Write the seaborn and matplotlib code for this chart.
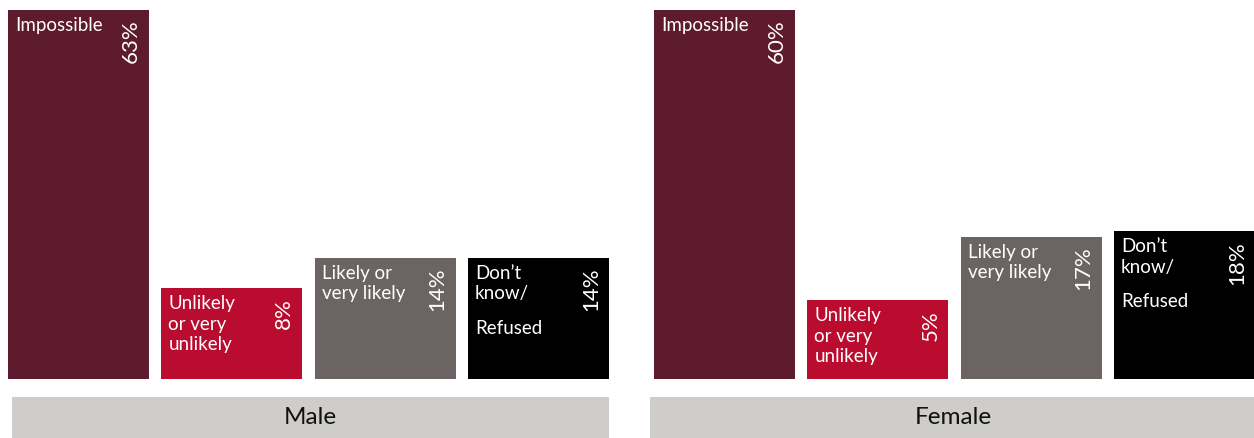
import matplotlib
matplotlib.use("Agg")
import matplotlib.pyplot as plt
from matplotlib.patches import Rectangle
import pandas as pd
import seaborn as sns

# Survey answers, split by respondent group
categories = ["Impossible", "Unlikely or very unlikely", "Likely or very likely", "Don’t know/ Refused"]
bar_captions = ["Impossible", "Unlikely\nor very\nunlikely", "Likely or\nvery likely", "Don’t\nknow/\n\nRefused"]
groups = ["Male", "Female"]
male_pct = [63, 8, 14, 14]
female_pct = [60, 5, 17, 18]
colors = ["#5f1b2e", "#ba0c2f", "#6b6462", "#000000"]

sns.set_theme(style="white")
plt.rcParams["font.family"] = ["Lato", "DejaVu Sans"]

W, H = 1254, 438
fig = plt.figure(figsize=(W / 100, H / 100), dpi=100)

FLOOR = 10      # bars start a little below zero so short bars can hold their caption
BAR_W = 0.92
PANEL_W = 601   # px
BASE_Y = 59     # px from the bottom of the figure
PANEL_H = 371   # px

panels = [
    dict(left=8, values=male_pct, name=groups[0], band=(12, 609)),
    dict(left=654, values=female_pct, name=groups[1], band=(650, 1256)),
]

palette = dict(zip(categories, colors))

for panel in panels:
    ax = fig.add_axes([panel["left"] / W, BASE_Y / H, PANEL_W / W, PANEL_H / H])
    df = pd.DataFrame({"category": categories, "pct": panel["values"]})
    sns.barplot(data=df, x="category", y="pct", hue="category",
                order=categories, hue_order=categories, palette=palette,
                saturation=1, width=BAR_W, legend=False, ax=ax)
    for p in ax.patches:
        top = p.get_y() + p.get_height()
        p.set_y(-FLOOR)
        p.set_height(top + FLOOR)
        p.set_linewidth(0)
    ax.set_xlim(-BAR_W / 2, len(categories) - 1 + BAR_W / 2)
    ax.set_ylim(-FLOOR, max(panel["values"]) + 0.3)
    ax.set_axis_off()

    for i, (caption, v) in enumerate(zip(bar_captions, panel["values"])):
        x_left = i - BAR_W / 2
        x_right = i + BAR_W / 2
        parts = caption.split("\n\n")
        dy = -7
        for part in parts:
            ax.annotate(part, xy=(x_left, v), xytext=(7, dy), textcoords="offset pixels",
                        ha="left", va="top", color="white", fontsize=13.5,
                        linespacing=1.27)
            dy -= 55
        ax.annotate(f"{v}%", xy=(x_right, v), xytext=(-18, -10), textcoords="offset pixels",
                    ha="center", va="top", rotation=90, color="white", fontsize=16)

    # group label band under the bars
    x0, x1 = panel["band"]
    fig.patches.append(Rectangle((x0 / W, 0), (x1 - x0) / W, 41 / H,
                                 transform=fig.transFigure, facecolor="#cecdc9",
                                 edgecolor="none"))
    fig.text((x0 + x1) / 2 / W, (438 - 418) / H, panel["name"], ha="center", va="center",
             fontsize=17.5, color="#111111")

fig.savefig("out.png", dpi=100)
